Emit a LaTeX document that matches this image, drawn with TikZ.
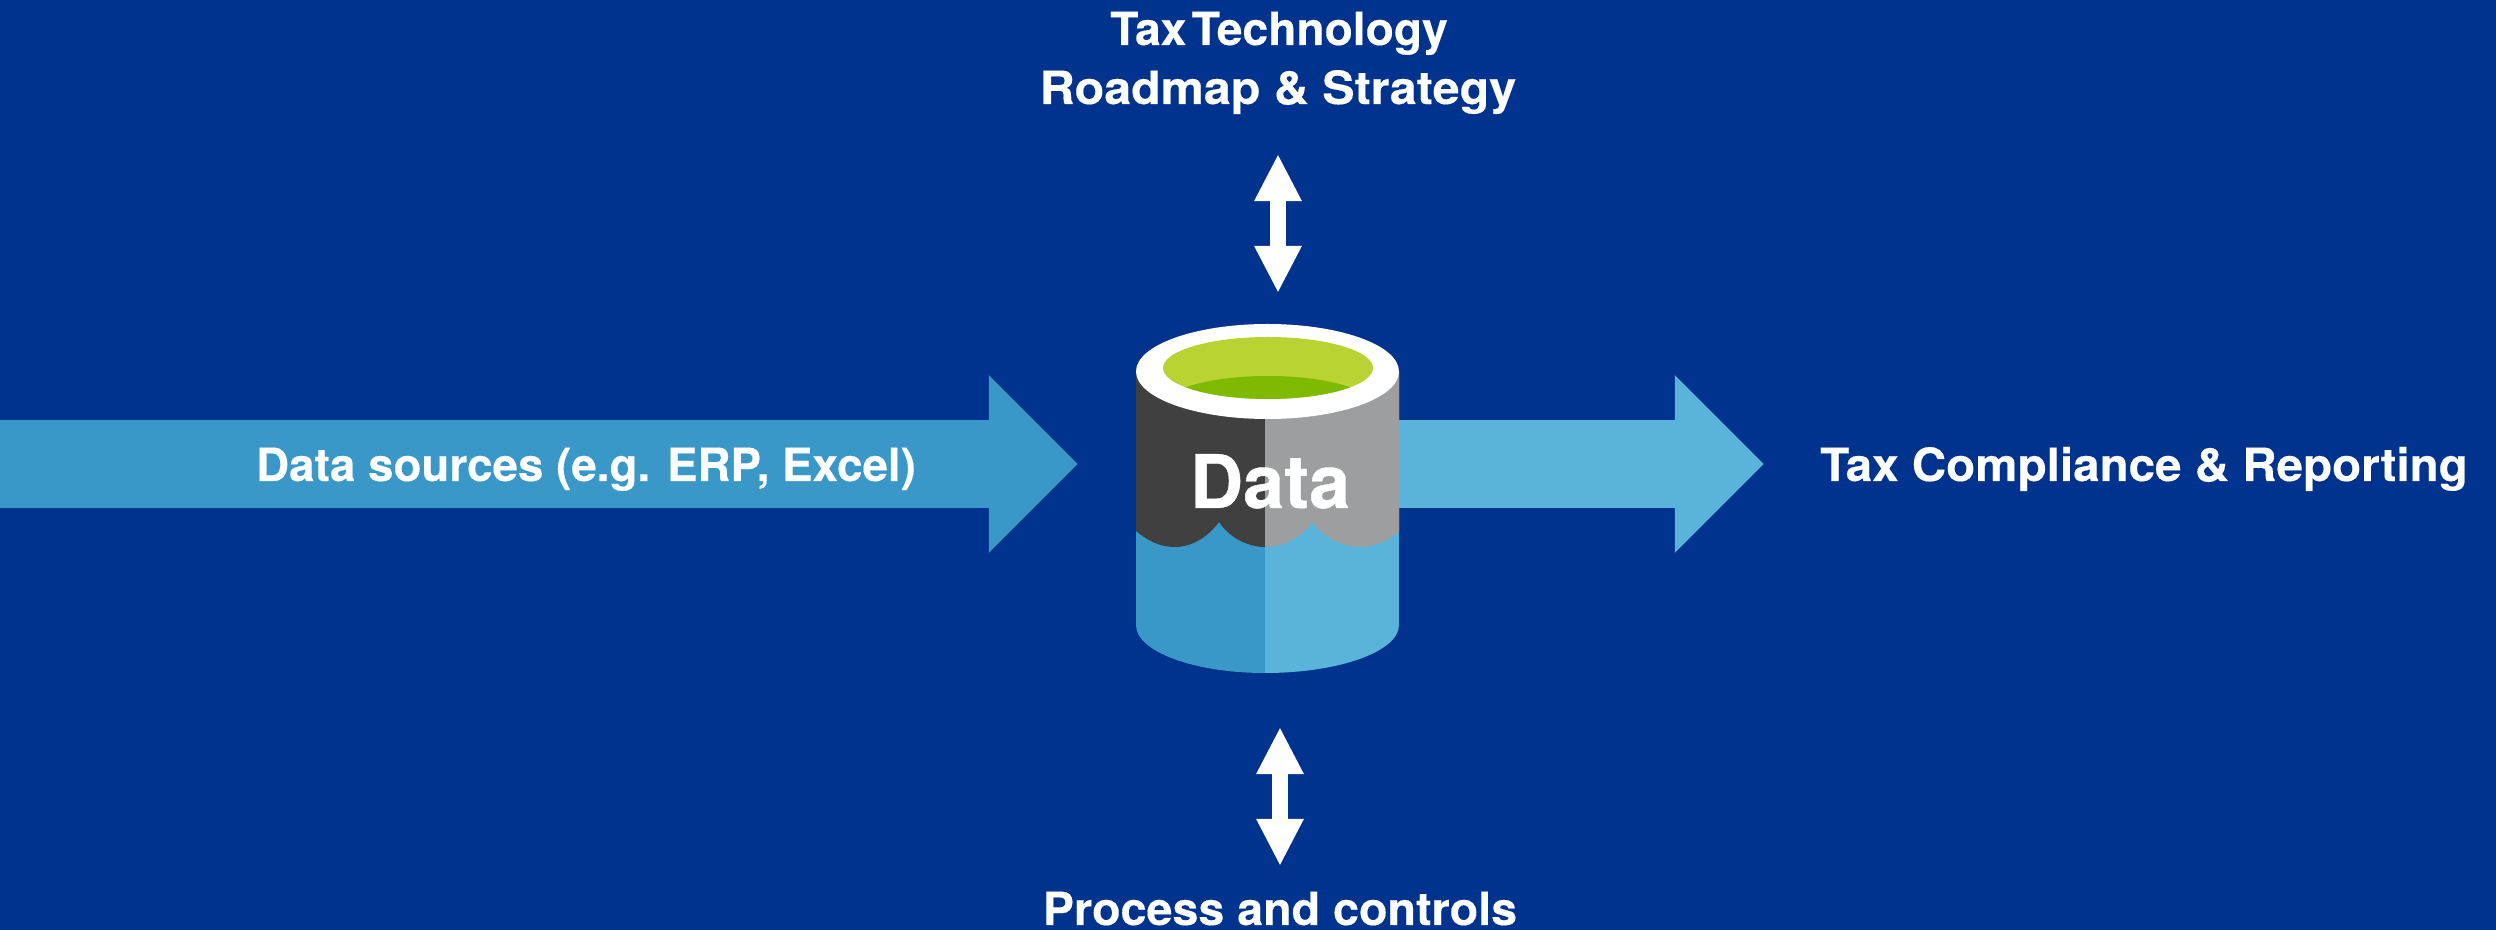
\documentclass[tikz,border=0pt]{standalone}
\usepackage{fontspec}
\setmainfont{TeX Gyre Heros}
\usetikzlibrary{arrows.meta}

\definecolor{bgblue}{HTML}{00338D}
\definecolor{wavedark}{HTML}{3998C7}
\definecolor{wavelight}{HTML}{5AB3DA}
\definecolor{shadedark}{HTML}{404040}
\definecolor{shadelight}{HTML}{9D9EA0}
\definecolor{limelight}{HTML}{B9D432}
\definecolor{limedark}{HTML}{80BA00}

\tikzset{
	label/.style={text=white, font=\fontsize{13}{16}\selectfont\bfseries\addfontfeature{FakeStretch=#1, FakeBold=0.25}, anchor=base, inner sep=0pt},
	label/.default=1,
	bigarrow/.style={line width=0.88cm, -{Triangle[length=0.89cm, width=1.72cm]}},
	twoway/.style={white, line width=0.16cm, {Triangle[length=0.47cm, width=0.44cm]}-{Triangle[length=0.47cm, width=0.44cm]}}
}

\begin{document}
\begin{tikzpicture}[x=0.01cm, y=0.01cm]
	\useasboundingbox (0,0) rectangle (2496,930);
	\fill[bgblue] (0,0) rectangle (2496,930);

	\coordinate (srcend) at (0,466);
	\coordinate (srctip) at (1078,466);
	\coordinate (dbmid) at (1265,466);
	\coordinate (outtip) at (1764,466);

	\draw[bigarrow, wavedark] (srcend) -- (srctip);
	\draw[bigarrow, wavelight] (dbmid) -- (outtip);

	% body, left and right half
	\foreach \dir/\rad/\start/\stop/\low in {-1/129/180/270/wavedark, 1/134/360/270/wavelight} {
		\fill[\low] (1265+\dir*\rad,558) -- (1265+\dir*\rad,305) arc[start angle=\start, end angle=\stop, x radius=\rad, y radius=48] -- (1265,558) -- cycle;
	}
	\fill[shadedark] (1136,558) -- (1136,399) .. controls (1148,389) and (1160,383) .. (1175,383) .. controls (1192,383) and (1208,393) .. (1219,408) .. controls (1229,393) and (1247,383) .. (1265,383) -- (1265,558) -- cycle;
	\fill[shadelight] (1399,558) -- (1399,399) .. controls (1388,389) and (1375,383) .. (1360,383) .. controls (1342,383) and (1323,393) .. (1312,408) .. controls (1302,393) and (1284,383) .. (1265,383) -- (1265,558) -- cycle;

	% rim and the liquid
	\fill[white] (1267.5,558.5) ellipse[x radius=131.5, y radius=47.5];
	\fill[limelight] (1268,562) ellipse[x radius=105, y radius=31];
	\begin{scope}
		\clip (1268,562) ellipse[x radius=105, y radius=31];
		\fill[limedark] (1268,524) ellipse[x radius=105, y radius=30];
	\end{scope}

	\node[label, font=\fontsize{21}{24}\selectfont\bfseries\addfontfeature{FakeBold=0.5}] (data) at (1270,422) {Data};

	\node[label] (sources) at (586,449) {Data sources (e.g. ERP, Excel)};
	\node[label=1.04] (compliance) at (2144,449) {Tax Compliance \& Reporting};
	\node[label=1.01] (tech) at (1279,885) {Tax\hspace{-0.16em} Technology};
	\node[label=1.06] (roadmap) at (1278,826) {Roadmap \& Strategy};
	\node[label=1.02] (process) at (1280,5) {Process and controls};

	\coordinate (upa) at (1278,776);
	\coordinate (upb) at (1278,637);
	\coordinate (downa) at (1280,203);
	\coordinate (downb) at (1280,64);

	\draw[twoway] (upa) -- (upb);
	\draw[twoway] (downa) -- (downb);
\end{tikzpicture}
\end{document}
